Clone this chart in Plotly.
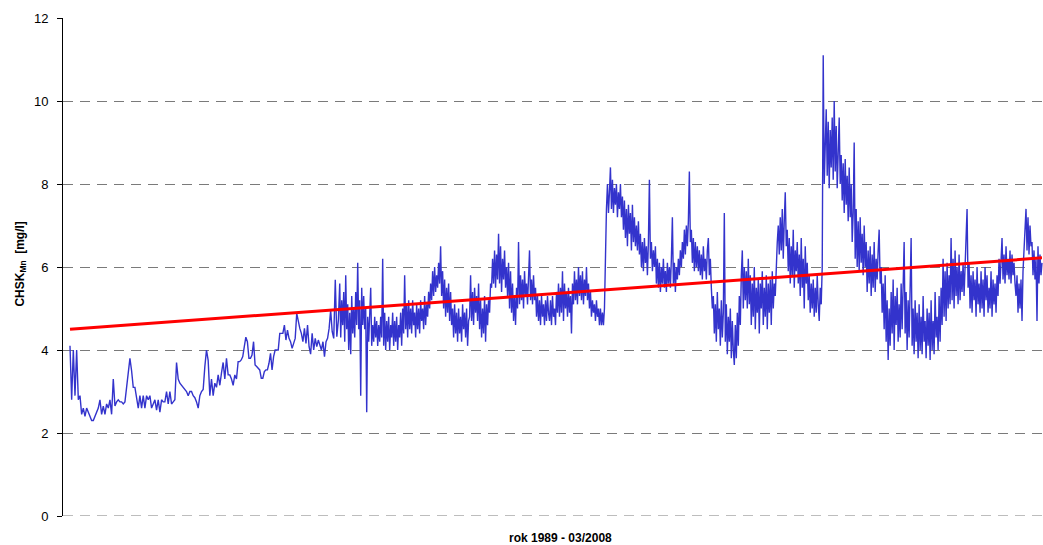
import numpy as np
import plotly.graph_objects as go

# ---- data (CHSK_Mn, mg/l) ----
# sparse early record 1989 - mid 1992
chsk_1989_92 = [4.1, 2.8, 4.0, 2.9, 4.0, 2.8, 2.9, 2.45, 2.6, 2.4,
                2.6, 2.5, 2.4, 2.3, 2.3, 2.4, 2.5, 2.6, 2.8, 2.45,
                2.65, 2.45, 2.7, 2.6, 2.8, 2.45, 3.3, 2.65, 2.75, 2.8,
                2.75, 2.75, 2.7, 2.75, 3.1, 3.45, 3.8, 3.5, 3.1, 3.1,
                2.8, 2.6, 2.9, 2.6, 2.9, 2.6, 2.9, 2.8, 2.9, 2.6,
                2.7, 2.8, 2.55, 2.8, 2.5, 2.8, 2.75, 2.75, 3.0, 2.7,
                3.0, 2.7, 2.75, 2.8, 3.7, 3.3, 3.2, 3.15, 3.1, 3.05,
                3.0, 2.9, 3.0, 3.0, 2.9, 2.85, 2.75, 2.6, 2.9, 3.0,
                3.05, 3.6, 4.0, 3.75, 2.9, 3.3, 2.9, 3.2, 3.1, 3.4,
                3.15, 3.45, 3.7, 3.3, 3.8, 3.4, 3.4, 3.3, 3.15, 3.4,
                3.3]
# 1992 - 1994
chsk_1992_94 = [3.72, 3.72, 3.76, 3.84, 4.08, 4.31, 4.2, 3.8, 3.8, 3.88,
                4.2, 3.64, 3.6, 3.56, 3.52, 3.32, 3.32, 3.48, 3.52, 3.52,
                3.68, 3.92, 3.52, 3.84, 4.0, 4.0, 4.0, 4.4, 4.4, 4.4,
                4.6, 4.24, 4.48, 4.28, 4.2, 4.04, 4.16, 4.28, 4.88, 4.68,
                4.52, 4.4, 4.2, 4.52, 4.16, 4.6, 4.08, 3.9, 4.4, 4.0,
                4.28, 4.08, 4.24, 4.12, 4.0, 4.2, 3.84, 4.2, 4.28, 4.52,
                4.96, 4.44, 4.28, 5.69, 4.32, 4.72]
# dense daily record, 1994 - 03/2008
chsk_1994_96 = [5.6, 4.3, 5.2, 4.6, 5.4, 4.2, 5.8, 4.5, 5.1, 4.0,
                4.9, 3.9, 5.3, 4.4, 5.0, 4.3, 5.4, 4.6, 6.1, 4.5,
                5.2, 2.9, 5.5, 4.6, 5.3, 4.5, 5.0, 2.5, 4.8, 4.2,
                4.7, 5.5, 4.1, 4.6, 4.2, 4.8, 4.3, 4.7, 4.1, 4.6,
                4.2, 4.8, 4.3, 6.2, 4.1, 4.9, 4.0, 4.7, 4.2, 4.8,
                4.0, 4.6, 4.3, 4.9, 4.1, 4.7, 4.2, 4.8, 4.0, 4.6,
                4.3, 4.9, 4.1, 5.0, 4.4, 5.8, 4.5, 5.1, 4.3, 5.2,
                4.5, 5.0, 4.4, 5.2, 4.6, 4.9, 4.3, 5.1, 4.5, 5.0,
                4.4, 5.2, 4.7, 5.0, 4.5, 5.3, 4.6, 5.1, 4.8, 5.4,
                5.0, 5.6, 5.2, 5.9, 5.3, 6.0, 5.4, 5.8, 5.5, 6.1]
chsk_1996_98 = [5.6, 6.5, 5.3, 5.9, 5.0, 5.7, 4.8, 5.5, 4.9, 5.6,
                4.7, 5.4, 4.6, 5.0, 4.3, 5.1, 4.4, 4.9, 4.2, 5.0,
                4.4, 4.8, 4.2, 5.1, 4.5, 4.9, 4.3, 5.0, 4.1, 4.7,
                4.8, 5.8, 4.7, 5.4, 4.6, 5.5, 4.9, 5.3, 4.7, 5.6,
                4.5, 5.2, 4.3, 5.0, 4.4, 5.3, 4.2, 5.1, 4.6, 5.2,
                4.9, 5.6, 5.5, 6.2, 5.6, 6.4, 5.5, 6.3, 5.7, 6.8,
                5.6, 6.5, 5.4, 6.2, 5.7, 6.4, 5.5, 6.0, 5.3, 6.1,
                5.0, 5.9, 4.9, 5.6, 4.7, 5.3, 4.6, 5.5, 5.0, 6.6,
                5.1, 5.8, 5.2, 5.7, 5.0, 5.9, 5.3, 5.6, 5.1, 5.8,
                6.4, 5.2, 5.7, 5.1, 5.8, 5.2, 5.5, 4.8, 5.3, 4.7]
chsk_1998_00 = [5.2, 4.6, 5.3, 4.8, 5.1, 4.6, 5.2, 4.7, 5.3, 4.9,
                4.7, 5.2, 4.6, 5.3, 4.8, 5.0, 4.6, 5.4, 4.9, 5.6,
                4.8, 5.5, 4.9, 5.9, 4.7, 5.6, 5.0, 5.4, 4.8, 5.5,
                4.9, 5.3, 4.4, 5.6, 5.1, 5.9, 5.2, 5.7, 5.1, 6.0,
                5.3, 5.8, 5.2, 5.9, 5.1, 5.7, 5.3, 6.0, 5.2, 5.6,
                5.0, 5.4, 4.8, 5.2, 4.9, 5.1, 4.7, 5.2, 4.8, 5.0,
                4.6, 5.0, 4.6, 4.9, 4.6, 5.0, 6.4, 7.4, 8.0, 7.3,
                7.8, 8.4, 7.4, 8.1, 7.3, 7.9, 7.5, 8.0, 7.2, 7.8,
                7.4, 8.0, 7.2, 7.7, 6.9, 7.6, 6.7, 7.4, 6.5, 7.5,
                6.8, 7.3, 6.4, 7.5, 6.6, 7.2, 6.5, 7.0, 6.4, 7.1]
chsk_2000_02 = [6.3, 6.8, 6.0, 6.6, 5.9, 6.7, 6.1, 6.5, 5.8, 6.6,
                8.1, 6.2, 6.6, 5.9, 6.4, 6.0, 6.5, 5.6, 6.2, 5.5,
                6.1, 5.4, 6.0, 5.6, 6.2, 5.5, 5.9, 5.4, 6.1, 5.6,
                6.0, 5.5, 6.2, 7.2, 5.6, 6.1, 5.4, 6.0, 5.7, 6.2,
                5.8, 6.4, 6.0, 6.6, 6.2, 6.9, 6.3, 7.0, 6.5, 7.1,
                8.3, 6.6, 6.9, 6.1, 6.7, 5.9, 6.6, 6.0, 6.5, 5.9,
                6.4, 5.8, 6.3, 5.7, 6.5, 5.9, 6.2, 5.7, 6.4, 6.7,
                5.8, 6.2, 5.5, 5.0, 5.3, 4.4, 5.1, 4.2, 5.4, 4.5,
                5.0, 4.1, 5.2, 4.3, 4.9, 7.3, 4.2, 5.1, 3.9, 4.8,
                4.2, 5.0, 3.8, 4.7, 4.0, 3.64, 4.6, 3.8, 4.9, 4.1]
chsk_2002_04 = [5.3, 4.6, 5.8, 6.4, 5.0, 6.0, 5.2, 5.9, 5.0, 6.2,
                5.1, 5.8, 4.6, 5.6, 4.8, 6.0, 4.5, 5.5, 4.9, 5.7,
                4.4, 5.6, 5.0, 5.9, 4.6, 5.5, 4.8, 5.8, 4.5, 5.6,
                4.9, 5.7, 4.6, 5.9, 5.0, 5.6, 5.3, 6.3, 6.6, 7.0,
                6.3, 7.2, 6.4, 7.4, 6.2, 7.1, 7.8, 6.5, 6.9, 5.9,
                6.7, 5.6, 6.5, 5.8, 6.9, 5.5, 6.4, 5.9, 6.6, 5.6,
                6.3, 5.3, 6.7, 5.5, 6.2, 5.0, 6.5, 5.6, 6.1, 5.2,
                5.8, 4.9, 5.6, 5.0, 5.7, 4.8, 5.5, 4.9, 5.8, 5.1,
                4.7, 5.5, 5.1, 6.0, 11.1, 8.0, 9.4, 9.8, 8.2, 9.5,
                7.9, 9.3, 8.4, 9.6, 8.1, 10.0, 8.3, 9.4, 7.9, 9.2]
chsk_2004_06 = [9.6, 8.0, 8.7, 7.6, 8.5, 7.3, 8.6, 7.5, 8.2, 7.1,
                8.4, 7.2, 8.0, 6.6, 7.3, 9.0, 6.2, 7.4, 6.0, 7.1,
                5.9, 7.2, 6.1, 6.8, 5.8, 7.0, 6.0, 6.6, 5.4, 6.4,
                5.6, 6.5, 5.3, 6.3, 5.5, 6.6, 5.4, 6.2, 5.7, 6.4,
                6.9, 5.6, 6.0, 4.9, 5.6, 4.5, 5.8, 4.2, 5.2, 3.76,
                5.0, 4.1, 5.4, 4.4, 5.7, 4.0, 5.3, 4.6, 5.5, 4.2,
                5.1, 4.3, 5.6, 4.5, 5.3, 6.6, 4.4, 5.4, 4.0, 5.2,
                4.3, 5.4, 6.7, 4.1, 5.0, 3.9, 5.2, 4.2, 4.9, 3.8,
                5.1, 4.0, 4.8, 3.9, 5.3, 4.2, 4.7, 3.8, 5.0, 4.1,
                4.9, 3.76, 5.2, 4.0, 4.7, 3.9, 5.4, 4.3, 4.8, 4.0]
chsk_2006_08 = [5.3, 4.2, 5.5, 4.6, 6.2, 4.8, 5.9, 4.7, 6.1, 5.0,
                5.8, 5.1, 6.7, 5.2, 6.2, 5.0, 6.4, 5.3, 6.0, 5.1,
                6.3, 5.2, 5.9, 5.4, 6.1, 5.3, 5.9, 6.6, 7.4, 5.5,
                6.1, 5.0, 5.8, 4.9, 5.9, 5.2, 5.7, 4.8, 6.0, 5.1,
                5.6, 4.9, 5.9, 5.0, 5.7, 4.8, 6.0, 5.2, 5.8, 4.9,
                5.5, 5.0, 5.9, 4.8, 5.7, 5.1, 5.6, 4.9, 5.8, 5.3,
                6.2, 5.6, 6.4, 6.7, 5.7, 6.3, 5.6, 6.5, 5.8, 6.2,
                5.7, 6.4, 5.6, 6.3, 5.8, 6.1, 5.6, 5.3, 5.8, 4.9,
                5.6, 5.0, 5.7, 4.7, 5.9, 6.5, 7.0, 7.4, 6.4, 7.2,
                6.3, 7.0, 6.5, 6.6, 5.8, 6.4, 5.7, 6.2, 4.7, 6.5,
                5.6, 6.3, 5.8, 6.1]

# sampling periods (decimal years) of each record block
period_early = (1989.000, 1992.297)
period_mid = (1992.330, 1994.315)
period_dense = (1994.342, 2008.250)

# linear trend end values (mg/l)
trend_years = [1989.0, 2008.25]
trend_values = [4.50, 6.22]

y_ticks = [0, 2, 4, 6, 8, 10, 12]

# ---- build series ----
dense = (chsk_1994_96 + chsk_1996_98 + chsk_1998_00 + chsk_2000_02
         + chsk_2002_04 + chsk_2004_06 + chsk_2006_08)
x = np.concatenate([
    np.linspace(*period_early, len(chsk_1989_92)),
    np.linspace(*period_mid, len(chsk_1992_94)),
    np.linspace(*period_dense, len(dense)),
])
y = chsk_1989_92 + chsk_1992_94 + dense

FONT = "Liberation Sans, Arial, sans-serif"
GRID = "#7a7a7a"
DASH = "10px,7px"

fig = go.Figure()
fig.add_trace(go.Scatter(x=x, y=y, mode="lines",
                         line=dict(color="#3333CC", width=1.4),
                         hoverinfo="skip", showlegend=False))
fig.add_trace(go.Scatter(x=trend_years, y=trend_values, mode="lines",
                         line=dict(color="#FF0000", width=3),
                         hoverinfo="skip", showlegend=False))

fig.update_layout(
    width=1043, height=545,
    margin=dict(l=63, r=0, t=18, b=29),
    plot_bgcolor="white", paper_bgcolor="white",
    font=dict(family=FONT, size=13, color="#000000"),
    xaxis=dict(range=[1988.8615, 2008.27], showgrid=False, zeroline=False,
               showticklabels=False, ticks="", showline=False),
    yaxis=dict(range=[0, 12], tickvals=y_ticks, showgrid=True,
               gridcolor=GRID, gridwidth=1, griddash=DASH,
               zeroline=False, showline=True, linecolor="#000000",
               linewidth=1, ticks="outside", ticklen=5,
               tickcolor="#000000", ticklabelstandoff=6,
               tickfont=dict(family=FONT, size=13, color="#000000")),
    shapes=[
        dict(type="line", xref="paper", yref="y", x0=0, x1=1, y0=0, y1=0,
             line=dict(color=GRID, width=1, dash=DASH), layer="below"),
    ],
    annotations=[
        dict(text="<b>rok 1989 - 03/2008</b>", xref="paper", yref="paper",
             x=0.5076, y=0, yshift=-22, xanchor="center", yanchor="middle",
             showarrow=False, font=dict(family=FONT, size=12, color="#000000")),
        dict(text="<b>CHSK<sub>Mn</sub>  [mg/l]</b>", xref="paper", yref="paper",
             x=-0.0438, y=0.505, xanchor="center", yanchor="middle",
             textangle=-90, showarrow=False,
             font=dict(family=FONT, size=12, color="#000000")),
    ],
)

fig.write_html("out.html")
